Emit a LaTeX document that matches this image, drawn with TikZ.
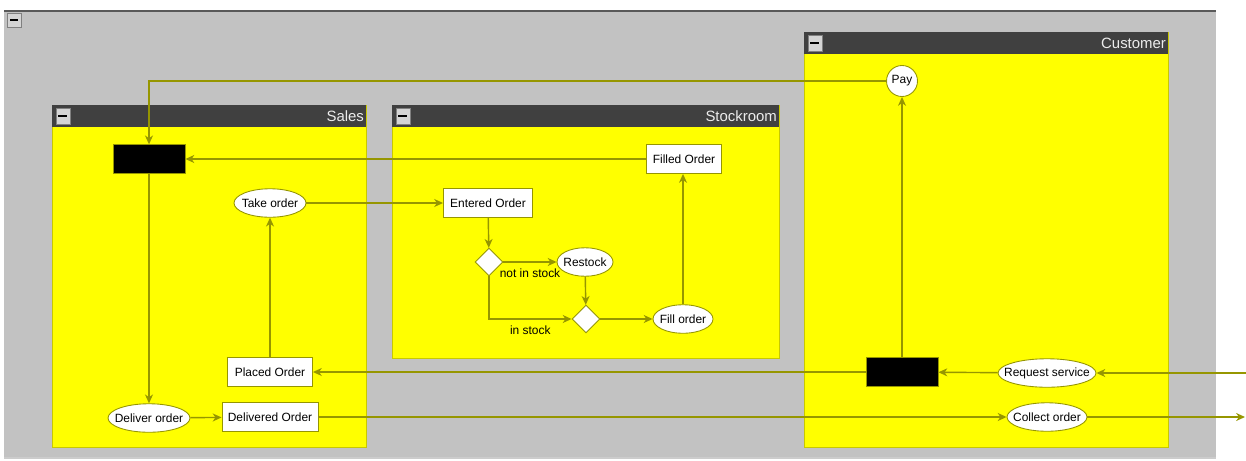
\documentclass[tikz,border=0pt]{standalone}
\usepackage{fontspec}
\newfontfamily\diafont{Liberation Sans}
\definecolor{framegray}{RGB}{194,194,194}
\definecolor{headgray}{RGB}{64,64,64}
\definecolor{laneyellow}{RGB}{255,255,0}
\definecolor{laneedge}{RGB}{200,200,0}
\definecolor{flowolive}{RGB}{150,150,0}
\definecolor{btngray}{RGB}{212,212,212}
\usetikzlibrary{shapes.geometric,arrows.meta,positioning}
\tikzset{
  flow/.style={draw=flowolive, line width=0.8pt,
    -{Stealth[length=5pt,width=4.5pt,inset=1.5pt]}},
  statebox/.style={rectangle, draw=flowolive, fill=white, line width=0.5pt,
    inner sep=0pt, minimum height=0.58cm},
  syncbar/.style={rectangle, draw=flowolive, fill=black, line width=0.5pt,
    minimum width=1.44cm, minimum height=0.57cm},
  act/.style={ellipse, draw=flowolive, fill=white, line width=0.5pt,
    inner sep=0pt, minimum height=0.57cm, label={center:#1}},
  choice/.style={diamond, draw=flowolive, fill=white, line width=0.5pt,
    inner sep=0pt, minimum width=0.56cm, minimum height=0.56cm},
  lanetitle/.style={anchor=east, inner sep=1pt, text=gray!15,
    font=\diafont\fontsize{8.5}{10}\selectfont},
  guard/.style={inner sep=1pt, text=black}
}

\begin{document}
\begin{tikzpicture}[x=0.02cm, y=-0.02cm, font=\diafont\fontsize{6.8}{8}\selectfont]
    \useasboundingbox (0,0) rectangle (1246,460);
    % Outer frame
    \fill[framegray] (4,11) rectangle (1216,458);
    \draw[gray!70!black, line width=0.8pt] (4,11) -- (1216,11);
    \draw[gray!40, line width=0.8pt] (4,458) -- (1216,458);
    \draw[fill=btngray, draw=gray] (7,13) rectangle (21,27);
    \draw[line width=1.2pt] (10,20) -- (18,20);
    % Swimlanes
    \foreach \xa/\xb/\ya/\yb/\lane in {
      52/366/105/447/Sales,
      392/779/105/358/Stockroom,
      804/1168/32/447/Customer
    }{
      \fill[laneyellow] (\xa,\ya) rectangle (\xb,\yb);
      \draw[laneedge, line width=0.5pt] (\xa,\ya) rectangle (\xb,\yb);
      \fill[headgray] (\xa,\ya) rectangle (\xb,\ya+22);
      \draw[fill=btngray, draw=gray] (\xa+4,\ya+3) rectangle (\xa+18,\ya+19);
      \draw[line width=1.2pt] (\xa+6,\ya+11) -- (\xa+15,\ya+11);
      \node[lanetitle] at (\xb,\ya+11) {\lane};
    }
    % Sales
    \node[syncbar] (salesbar) at (149,159) {};
    \node[act={Take order}, minimum width=1.44cm] (take) at (270,203) {};
    \node[statebox, minimum width=1.70cm] (placed) at (270,372) {Placed Order};
    \node[act={Deliver order}, minimum width=1.64cm] (deliver) at (149,418) {};
    \node[statebox, minimum width=1.92cm] (delivered) at (270,417) {Delivered Order};
    % Stockroom
    \node[statebox, minimum width=1.50cm] (filled) at (684,159) {Filled Order};
    \node[statebox, minimum width=1.78cm] (entered) at (488,203) {Entered Order};
    \node[choice] (split) at (489,262) {};
    \node[act={Restock}, minimum width=1.12cm] (restock) at (585,262) {};
    \node[choice] (merge) at (586,319) {};
    \node[act={Fill order}, minimum width=1.20cm] (fill) at (683,319) {};
    % Customer
    \node[circle, draw=flowolive, fill=white, line width=0.5pt, inner sep=0pt,
      minimum size=0.62cm] (pay) at (902,81) {Pay};
    \node[syncbar] (custbar) at (902,372) {};
    \node[act={Request service}, minimum width=1.96cm] (request) at (1047,373) {};
    \node[act={Collect order}, minimum width=1.60cm] (collect) at (1047,417) {};
    \coordinate (inflow) at (1246,373);
    \coordinate (outflow) at (1245,417);
    % Flows
    \draw[flow] (pay.west) -| (salesbar.north);
    \draw[flow] (filled.west) -- (filled.west -| salesbar.east);
    \draw[flow] (salesbar.south) -- (deliver.north);
    \draw[flow] (deliver) -- (delivered);
    \draw[flow] (delivered) -- (collect);
    \draw[flow] (collect.east) -- (outflow);
    \draw[flow] (inflow) -- (request.east);
    \draw[flow] (request) -- (custbar);
    \draw[flow] (custbar.west) -- (custbar.west -| placed.east);
    \draw[flow] (custbar.north) -- (pay.south);
    \draw[flow] (placed.north) -- (take.south);
    \draw[flow] (take) -- (take -| entered.west);
    \draw[flow] (entered) -- (split);
    \draw[flow] (split.east) -- (restock.west)
      node[guard, midway, below=2.5pt] {not in stock};
    \draw[flow] (split.south) |- (merge.west)
      node[guard, pos=0.75, below=2.5pt] {in stock};
    \draw[flow] (restock) -- (merge);
    \draw[flow] (merge) -- (fill);
    \draw[flow] (fill.north) -- (fill.north |- filled.south);
\end{tikzpicture}
\end{document}
